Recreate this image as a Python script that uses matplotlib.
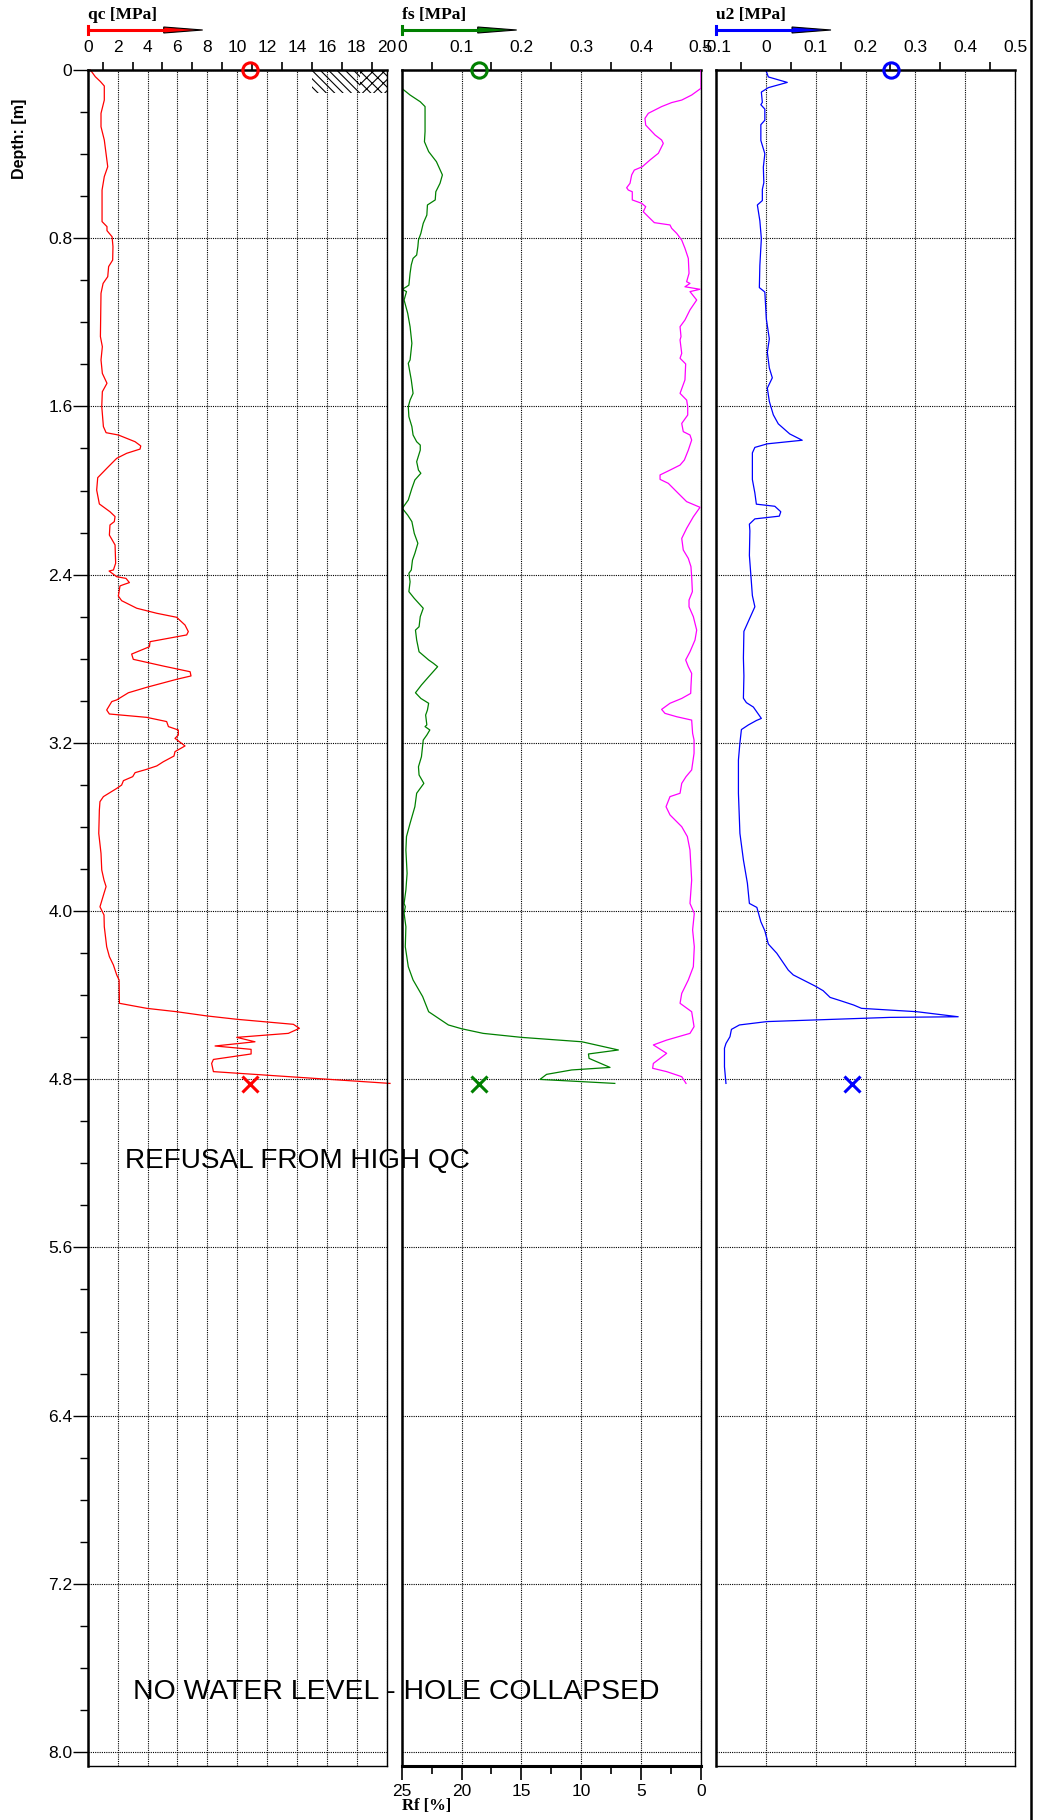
import numpy as np
import matplotlib.pyplot as plt
from matplotlib.lines import Line2D
from matplotlib.patches import Polygon, Rectangle

plt.rcParams['font.family'] = ['Liberation Sans', 'DejaVu Sans']
plt.rcParams['hatch.linewidth'] = 0.8

qc_depth = [0.0, 0.032, 0.055, 0.076, 0.143, 0.206, 0.27, 0.333, 0.46, 0.507, 0.571, 0.721, 0.745, 0.764,
            0.793, 0.84, 0.904, 0.935, 0.983, 1.015, 1.062, 1.268, 1.316, 1.379, 1.443, 1.49, 1.53, 1.60,
            1.696, 1.725, 1.736, 1.768, 1.788, 1.803, 1.823, 1.847, 1.895, 1.939, 1.998, 2.064, 2.101,
            2.124, 2.148, 2.164, 2.212, 2.259, 2.346, 2.378, 2.383, 2.41, 2.418, 2.438, 2.449, 2.454,
            2.502, 2.524, 2.56, 2.584, 2.603, 2.64, 2.671, 2.687, 2.719, 2.743, 2.778, 2.803, 2.835,
            2.862, 2.882, 2.898, 2.936, 2.962, 2.996, 3.004, 3.044, 3.063, 3.079, 3.099, 3.123, 3.139,
            3.163, 3.179, 3.215, 3.242, 3.263, 3.29, 3.31, 3.326, 3.342, 3.361, 3.38, 3.401, 3.417,
            3.456, 3.48, 3.52, 3.631, 3.726, 3.805, 3.853, 3.884, 3.916, 3.98, 4.019, 4.075, 4.17,
            4.217, 4.257, 4.304, 4.328, 4.439, 4.463, 4.479, 4.499, 4.515, 4.539, 4.558, 4.582, 4.601,
            4.622, 4.642, 4.658, 4.68, 4.706, 4.725, 4.764, 4.82]
qc_vals = [0.18, 0.51, 0.85, 1.11, 1.11, 0.89, 0.89, 1.11, 1.34, 1.11, 0.96, 0.96, 1.29, 1.29,
           1.63, 1.69, 1.67, 1.40, 1.34, 1.03, 0.89, 0.85, 0.98, 0.89, 0.98, 1.29, 0.98, 0.94,
           1.05, 1.23, 2.05, 3.17, 3.55, 3.50, 2.61, 1.94, 1.27, 0.67, 0.60, 0.78, 1.49,
           1.83, 1.78, 1.49, 1.45, 1.83, 1.87, 1.72, 1.43, 1.94, 2.56, 2.79, 2.34, 2.16,
           2.05, 2.27, 3.28, 4.62, 5.95, 6.51, 6.73, 6.62, 4.17, 4.13, 2.94, 3.05, 5.06,
           6.85, 6.91, 5.95, 3.95, 2.72, 1.94, 1.61, 1.27, 1.45, 3.95, 5.28, 5.40, 6.06,
           6.06, 5.84, 6.51, 5.84, 5.77, 5.06, 4.62, 3.95, 3.17, 3.01, 2.39, 2.27, 1.94,
           1.05, 0.82, 0.78, 0.74, 0.89, 0.94, 1.09, 1.23, 1.09, 0.82, 1.09, 1.11, 1.27,
           1.45, 1.72, 1.94, 2.10, 2.12, 3.95, 5.95, 7.96, 9.97, 13.76, 14.16, 13.42, 9.97,
           11.19, 8.52, 10.93, 10.93, 8.41, 8.29, 8.41, 20.22]

fs_depth = [0.0, 0.087, 0.119, 0.151, 0.174, 0.293, 0.341, 0.388, 0.436, 0.499, 0.539, 0.579, 0.618,
            0.642, 0.69, 0.729, 0.777, 0.809, 0.84, 0.88, 0.896, 0.927, 0.967, 1.023, 1.031, 1.043,
            1.054, 1.094, 1.157, 1.221, 1.30, 1.379, 1.395, 1.474, 1.538, 1.57, 1.601, 1.649, 1.696,
            1.736, 1.768, 1.784, 1.808, 1.863, 1.903, 1.918, 1.95, 1.99, 2.045, 2.085, 2.117, 2.148,
            2.204, 2.251, 2.299, 2.331, 2.378, 2.394, 2.434, 2.481, 2.513, 2.56, 2.60, 2.648, 2.664,
            2.711, 2.767, 2.806, 2.822, 2.838, 2.886, 2.925, 2.962, 2.989, 3.012, 3.044, 3.068,
            3.115, 3.123, 3.139, 3.163, 3.187, 3.266, 3.314, 3.353, 3.393, 3.44, 3.504, 3.583,
            3.646, 3.71, 3.821, 3.90, 3.964, 3.979, 4.011, 4.075, 4.17, 4.265, 4.328, 4.407, 4.479,
            4.542, 4.56, 4.582, 4.601, 4.622, 4.661, 4.68, 4.701, 4.744, 4.756, 4.777, 4.801, 4.82]
fs_vals = [0.0, 0.0, 0.014, 0.031, 0.039, 0.039, 0.038, 0.045, 0.058, 0.068, 0.064, 0.057, 0.056,
           0.043, 0.042, 0.036, 0.032, 0.028, 0.027, 0.025, 0.019, 0.016, 0.014, 0.012, 0.008, 0.001,
           0.008, 0.004, 0.010, 0.014, 0.017, 0.014, 0.011, 0.016, 0.019, 0.014, 0.011, 0.012, 0.017,
           0.019, 0.025, 0.031, 0.031, 0.025, 0.028, 0.032, 0.022, 0.017, 0.011, 0.001, 0.010, 0.017,
           0.021, 0.027, 0.022, 0.018, 0.016, 0.012, 0.014, 0.012, 0.021, 0.036, 0.031, 0.029, 0.023,
           0.025, 0.029, 0.045, 0.053, 0.060, 0.045, 0.033, 0.023, 0.032, 0.045, 0.043, 0.040,
           0.042, 0.039, 0.047, 0.042, 0.036, 0.033, 0.028, 0.029, 0.037, 0.025, 0.022, 0.014,
           0.008, 0.007, 0.009, 0.007, 0.004, 0.006, 0.004, 0.007, 0.006, 0.011, 0.019, 0.035, 0.045,
           0.078, 0.100, 0.136, 0.200, 0.301, 0.362, 0.312, 0.313, 0.348, 0.284, 0.242, 0.231, 0.356]

rf_depth = [0.0, 0.087, 0.119, 0.143, 0.155, 0.174, 0.206, 0.23, 0.262, 0.309, 0.333, 0.349, 0.396,
            0.428, 0.46, 0.476, 0.499, 0.539, 0.56, 0.571, 0.579, 0.618, 0.634, 0.65, 0.674, 0.698,
            0.726, 0.737, 0.753, 0.777, 0.809, 0.848, 0.896, 0.967, 1.007, 1.015, 1.031, 1.043, 1.054,
            1.094, 1.141, 1.189, 1.221, 1.268, 1.284, 1.348, 1.371, 1.398, 1.474, 1.538, 1.57, 1.601,
            1.641, 1.681, 1.72, 1.736, 1.76, 1.808, 1.855, 1.879, 1.903, 1.926, 1.947, 1.966, 2.014,
            2.053, 2.08, 2.125, 2.18, 2.228, 2.283, 2.323, 2.362, 2.41, 2.481, 2.521, 2.553, 2.60,
            2.664, 2.711, 2.767, 2.806, 2.838, 2.87, 2.933, 2.965, 2.989, 3.012, 3.041, 3.06, 3.076,
            3.092, 3.155, 3.187, 3.25, 3.329, 3.361, 3.393, 3.44, 3.456, 3.504, 3.543, 3.599, 3.646,
            3.71, 3.853, 3.964, 4.011, 4.09, 4.17, 4.265, 4.328, 4.392, 4.439, 4.479, 4.55, 4.582,
            4.614, 4.637, 4.677, 4.725, 4.748, 4.764, 4.788, 4.82]
rf_vals = [0.0, 0.0, 0.78, 1.61, 2.45, 3.29, 4.40, 4.68, 4.62, 3.84, 3.29, 3.15, 3.56,
           4.26, 4.90, 5.57, 5.79, 5.93, 6.21, 6.07, 5.74, 5.74, 4.96, 4.62, 4.82, 4.40,
           3.90, 2.59, 2.45, 2.03, 1.61, 1.34, 1.06, 1.00, 1.20, 0.92, 1.34, 0.08, 0.92,
           0.36, 0.92, 1.34, 1.75, 1.67, 1.75, 1.61, 1.75, 1.28, 1.34, 1.75, 1.20, 1.11,
           1.11, 1.61, 1.48, 0.92, 0.78, 1.06, 1.39, 1.75, 2.59, 3.42, 3.42, 2.73, 1.89,
           1.20, 0.08, 0.64, 1.20, 1.61, 1.48, 1.06, 0.84, 0.78, 0.72, 1.00, 1.00, 0.64,
           0.36, 0.50, 0.92, 1.28, 1.06, 0.78, 0.84, 0.86, 1.61, 2.59, 3.29, 3.01, 2.03,
           0.78, 0.70, 0.58, 0.58, 0.78, 1.25, 1.61, 1.75, 2.59, 2.92, 2.59, 1.61, 1.14,
           0.92, 0.78, 0.92, 0.56, 0.70, 0.56, 0.64, 1.06, 1.61, 1.75, 0.78, 0.58, 0.92,
           2.87, 3.98, 2.87, 3.98, 4.04, 2.87, 1.61, 1.25]

u2_depth = [0.0, 0.033, 0.059, 0.084, 0.105, 0.154, 0.165, 0.186, 0.239, 0.26, 0.335, 0.398, 0.462,
            0.536, 0.568, 0.621, 0.642, 0.717, 0.802, 0.929, 1.035, 1.056, 1.184, 1.279, 1.343, 1.417,
            1.464, 1.513, 1.576, 1.64, 1.683, 1.731, 1.761, 1.778, 1.795, 1.821, 1.948, 2.012, 2.065,
            2.075, 2.101, 2.122, 2.135, 2.16, 2.192, 2.309, 2.436, 2.50, 2.553, 2.606, 2.67, 2.797,
            2.882, 2.988, 3.009, 3.03, 3.084, 3.094, 3.115, 3.137, 3.20, 3.282, 3.44, 3.631, 3.757,
            3.868, 3.964, 3.983, 4.051, 4.094, 4.157, 4.201, 4.281, 4.304, 4.357, 4.379, 4.411,
            4.426, 4.447, 4.463, 4.479, 4.503, 4.506, 4.526, 4.542, 4.563, 4.598, 4.63, 4.653,
            4.741, 4.82]
u2_vals = [0.0, 0.005, 0.043, 0.005, -0.009, -0.007, -0.010, -0.002, -0.002, -0.010, -0.010, -0.002,
           -0.005, -0.004, -0.007, -0.007, -0.017, -0.012, -0.009, -0.012, -0.013, -0.002, 0.001,
           0.007, 0.003, 0.007, 0.013, 0.003, 0.007, 0.015, 0.025, 0.048, 0.073, 0.003, -0.022,
           -0.027, -0.027, -0.022, -0.019, 0.018, 0.030, 0.027, -0.022, -0.033, -0.032, -0.033,
           -0.029, -0.027, -0.022, -0.032, -0.044, -0.045, -0.044, -0.045, -0.039, -0.025, -0.009,
           -0.019, -0.035, -0.049, -0.052, -0.055, -0.055, -0.052, -0.045, -0.037, -0.033, -0.018,
           -0.010, -0.002, 0.005, 0.022, 0.045, 0.055, 0.099, 0.115, 0.129, 0.149, 0.176, 0.192,
           0.303, 0.386, 0.249, 0.002, -0.053, -0.069, -0.072, -0.080, -0.083, -0.083, -0.080]

# start (circle) and end (cross) markers
qc_marks = [10.86, 10.86]
fs_marks = [0.129, 0.129]
u2_marks = [0.251, 0.173]
mark_depth = [0.0, 4.823]

depth_ticks = [0, 0.8, 1.6, 2.4, 3.2, 4.0, 4.8, 5.6, 6.4, 7.2, 8.0]
depth_labels = ['0', '0.8', '1.6', '2.4', '3.2', '4.0', '4.8', '5.6', '6.4', '7.2', '8.0']

W, H = 1045, 1820
top_px, bot_px = 70, 1766
dmax = (bot_px - top_px) / 210.25

fig = plt.figure(figsize=(W / 100, H / 100), dpi=100)


def panel(x0, x1):
    return fig.add_axes([x0 / W, 1 - bot_px / H, (x1 - x0) / W, (bot_px - top_px) / H])


def fx(x):
    return x / W


def fy(y):
    return 1 - y / H


grid_kw = dict(color='black', linestyle=(0, (1, 1)), linewidth=0.8)


def style(ax, lo, hi, major, minor, labels):
    ax.set_xlim(lo, hi)
    ax.set_ylim(dmax, 0)
    ax.xaxis.set_ticks_position('top')
    ax.xaxis.set_label_position('top')
    ax.set_xticks(major)
    ax.set_xticklabels(labels)
    ax.set_xticks(minor, minor=True)
    ax.tick_params(axis='x', which='major', length=0, pad=11, labelsize=12.5)
    ax.tick_params(axis='x', which='minor', length=6, width=1.2, direction='out')
    ax.set_yticks(depth_ticks)
    ax.grid(True, which='major', **grid_kw)
    ax.set_axisbelow(True)
    ax.spines['top'].set_linewidth(1.8)
    ax.spines['left'].set_linewidth(1.8)
    ax.spines['right'].set_linewidth(1.0)
    ax.spines['bottom'].set_linewidth(1.0)
    ax.patch.set_alpha(0)


ax_qc = panel(87.7, 386.7)
ax_fs = panel(401.7, 701)
ax_u2 = panel(716, 1015)
# Rf axis below the fs panel (made first, twiny moves the host ticks)
ax_rf = ax_fs.twiny()

style(ax_qc, 0, 20, np.arange(0, 21, 2), np.arange(1, 20, 2), [str(v) for v in range(0, 21, 2)])
style(ax_fs, 0, 0.5, np.arange(0, 0.51, 0.1), np.arange(0.05, 0.5, 0.1),
      ['0', '0.1', '0.2', '0.3', '0.4', '0.5'])
style(ax_u2, -0.1, 0.5, np.arange(-0.1, 0.51, 0.1), np.arange(-0.05, 0.5, 0.1),
      ['-0.1', '0', '0.1', '0.2', '0.3', '0.4', '0.5'])

ax_qc.set_yticklabels(depth_labels)
ax_qc.set_yticks(np.arange(0, 8.01, 0.2), minor=True)
ax_qc.tick_params(axis='y', which='major', length=11, width=1, pad=0, labelsize=12.5)
ax_qc.tick_params(axis='y', which='minor', length=5.5, width=1)
for ax in (ax_fs, ax_u2):
    ax.tick_params(axis='y', which='both', left=False, labelleft=False)

ax_rf.set_xlim(25, 0)
ax_rf.set_ylim(dmax, 0)
ax_rf.xaxis.set_ticks_position('bottom')
ax_rf.xaxis.set_label_position('bottom')
ax_rf.set_xticks([25, 20, 15, 10, 5, 0])
ax_rf.set_xticklabels(['25', '20', '15', '10', '5', '0'])
ax_rf.set_xticks([22.5, 17.5, 12.5, 7.5, 2.5], minor=True)
ax_rf.tick_params(axis='x', which='major', length=10, width=1.2, pad=3, labelsize=12.5)
ax_rf.tick_params(axis='x', which='minor', length=5.5, width=1.2)
for s in ('top', 'left', 'right'):
    ax_rf.spines[s].set_visible(False)
ax_rf.spines['bottom'].set_linewidth(2.2)
ax_fs.spines['bottom'].set_visible(False)

# curves
ax_qc.plot(qc_vals, qc_depth, color='#ff0000', lw=0.9, clip_on=False)
ax_fs.plot(fs_vals, fs_depth, color='#008000', lw=0.9)
ax_rf.plot(rf_vals, rf_depth, color='#ff00ff', lw=0.9)
ax_u2.plot(u2_vals, u2_depth, color='#0000ff', lw=0.9)

for ax, vals, c in ((ax_qc, qc_marks, 'red'), (ax_fs, fs_marks, 'green'), (ax_u2, u2_marks, 'blue')):
    ax.plot(vals[0], mark_depth[0], 'o', ms=11, mfc='none', mec=c, mew=2.2, clip_on=False, zorder=5)
    ax.plot(vals[1], mark_depth[1], 'x', ms=12, mec=c, mew=2.2, clip_on=False, zorder=5)

# soil symbol at the top of the qc column
for x0, x1, h in ((15, 16.7, '\\' * 4), (16.7, 18.2, '\\' * 4), (18.2, 20, 'x' * 3)):
    ax_qc.add_patch(Rectangle((x0, 0), x1 - x0, 0.11, fill=False, hatch=h, lw=0, color='black'))

# column titles with arrows
for x0, name, c in ((87.7, 'qc [MPa]', '#ff0000'), (401.7, 'fs [MPa]', '#008000'), (716, 'u2 [MPa]', '#0000ff')):
    fig.text(fx(x0), fy(15), name, fontsize=12.5, fontweight='bold', family='Liberation Serif',
             ha='left', va='center')
    fig.add_artist(Line2D([fx(x0), fx(x0 + 77)], [fy(30), fy(30)], color=c, lw=2.2))
    fig.add_artist(Line2D([fx(x0), fx(x0)], [fy(26), fy(34)], color=c, lw=2.2))
    fig.add_artist(Polygon([[fx(x0 + 76), fy(27)], [fx(x0 + 115), fy(30)], [fx(x0 + 76), fy(33)]],
                           closed=True, facecolor=c, edgecolor='black', lw=0.8))

fig.text(fx(402), fy(1806), 'Rf [%]', fontsize=12, fontweight='bold', family='Liberation Serif',
         ha='left', va='center')
fig.text(fx(20), fy(139), 'Depth: [m]', fontsize=11.5, fontweight='bold', rotation=90,
         family='Liberation Sans', ha='center', va='center')

fig.text(fx(125), fy(1161), 'REFUSAL FROM HIGH QC', fontsize=20.2, ha='left', va='center')
fig.text(fx(133), fy(1692), 'NO WATER LEVEL - HOLE COLLAPSED', fontsize=20.4, ha='left', va='center')

# right hand border
fig.add_artist(Line2D([fx(1031), fx(1031)], [0, 1], color='black', lw=1.8))

fig.savefig('out.png', dpi=100)
